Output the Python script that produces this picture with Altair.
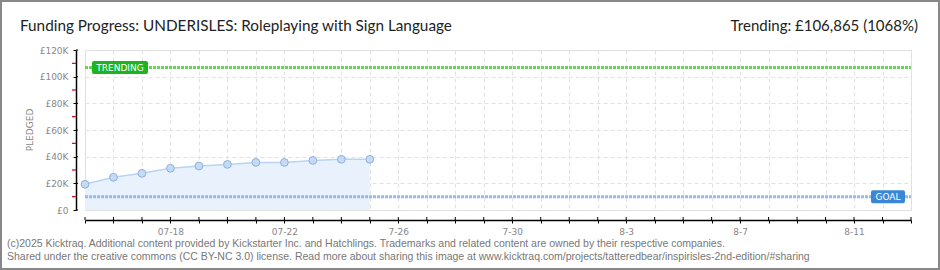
import altair as alt
import pandas as pd
import json

# ---- data ----
dates = ["2025-07-15", "2025-07-16", "2025-07-17", "2025-07-18", "2025-07-19", "2025-07-20",
         "2025-07-21", "2025-07-22", "2025-07-23", "2025-07-24", "2025-07-25"]
pledged = [19300, 24500, 27500, 31300, 33000, 34200, 35700, 35700, 37200, 38000, 38000]
goal = 10000
trending = 106865
start_date = "2025-07-15"
end_date = "2025-08-13"
x_tick_labels = {"2025-07-18": "07-18", "2025-07-22": "07-22", "2025-07-26": "7-26",
                 "2025-07-30": "7-30", "2025-08-03": "8-3", "2025-08-07": "8-7", "2025-08-11": "8-11"}
y_ticks = [0, 20000, 40000, 60000, 80000, 100000, 120000]
y_labels = ["£0", "£20K", "£40K", "£60K", "£80K", "£100K", "£120K"]
y_minor = [10000, 30000, 50000, 70000, 90000, 110000]
title_text = "Funding Progress: UNDERISLES: Roleplaying with Sign Language"
trend_text = "Trending:  £106,865 (1068%)"
footer1 = ("(c)2025 Kicktraq. Additional content provided by Kickstarter Inc. and Hatchlings. "
           "Trademarks and related content are owned by their respective companies.")
footer2 = ("Shared under the creative commons (CC BY-NC 3.0) license. Read more about sharing this "
           "image at www.kicktraq.com/projects/tatteredbear/inspirisles-2nd-edition/#sharing")

start = pd.Timestamp(start_date)
n_days = (pd.Timestamp(end_date) - start).days
df = pd.DataFrame({"day": [(pd.Timestamp(d) - start).days for d in dates], "pledged": pledged})
xlab_arr = [""] * (n_days + 1)
for k, v in x_tick_labels.items():
    xlab_arr[(pd.Timestamp(k) - start).days] = v
y_step = y_ticks[1] - y_ticks[0]
ylab_arr = [""] * len(y_ticks)
for k, v in zip(y_ticks, y_labels):
    ylab_arr[k // y_step] = v

W, H = 826, 160
LABEL_FONT = "DejaVu Sans"
TITLE_FONT = "Lato"

x_axis = alt.Axis(values=list(range(n_days + 1)), tickCount=100,
                  labelExpr=json.dumps(xlab_arr) + "[round(datum.value)]",
                  grid=True, gridDash=[4, 3], gridColor="#e2e2e2",
                  domainColor="#000", domainWidth=1.5, tickColor="#000", tickSize=3,
                  offset=10, labelFont=LABEL_FONT, labelFontSize=9, labelColor="#888",
                  labelPadding=4, title=None, labelOverlap=False, labelFlush=False)
y_axis = alt.Axis(values=y_ticks, tickCount=100,
                  labelExpr=json.dumps(ylab_arr) + "[round(datum.value/" + str(y_step) + ")]",
                  grid=True, gridDash=[4, 3], gridColor="#e2e2e2",
                  domainColor="#000", domainWidth=1.5, tickColor="#000", tickSize=3,
                  offset=9, labelFont=LABEL_FONT, labelFontSize=9, labelColor="#888",
                  labelPadding=5, title=None, labelOverlap=False)
x_scale = alt.Scale(domain=[0, n_days], nice=False, zero=False)
y_scale = alt.Scale(domain=[0, 120000], nice=False)

def X(field="day"):
    return alt.X(f"{field}:Q", scale=x_scale, axis=x_axis)

def Y(field="pledged"):
    return alt.Y(f"{field}:Q", scale=y_scale, axis=y_axis)

base = alt.Chart(df)
area = base.mark_area(color="#e9f2fc", opacity=1).encode(x=X(), y=Y())
line = base.mark_line(color="#b9d3f1", strokeWidth=1.5).encode(x=X(), y=Y())
pts = base.mark_point(filled=True, fill="#c4dbf6", stroke="#8fb0d9", strokeWidth=1,
                      size=60, opacity=1).encode(x=X(), y=Y())

trend_rule = alt.Chart(pd.DataFrame({"pledged": [trending]})).mark_rule(
    color="#6ad35a", strokeWidth=3, strokeDash=[3, 1]).encode(
    y=Y(), x=alt.value(0), x2=alt.value(W))
goal_rule = alt.Chart(pd.DataFrame({"pledged": [goal]})).mark_rule(
    color="#96bbe6", strokeWidth=3, strokeDash=[3, 1]).encode(
    y=Y(), x=alt.value(0), x2=alt.value(W))

minor = alt.Chart(pd.DataFrame({"pledged": y_minor})).mark_rule(
    color="#e00000", strokeWidth=1.2).encode(y=Y(), x=alt.value(-13), x2=alt.value(-9))
# inner halves of the major ticks (ticks cross the axis lines)
y_inner = alt.Chart(pd.DataFrame({"pledged": y_ticks})).mark_rule(
    color="#000", strokeWidth=1).encode(y=Y(), x=alt.value(-9), x2=alt.value(-7))
x_inner = alt.Chart(pd.DataFrame({"day": list(range(n_days + 1))})).mark_rule(
    color="#000", strokeWidth=1).encode(x=X(), y=alt.value(H + 7), y2=alt.value(H + 10))

trend_box = alt.Chart(pd.DataFrame({"pledged": [trending]})).mark_rect(
    color="#1db41d", cornerRadius=2, yOffset=-6.5, y2Offset=6.5).encode(
    y=Y(), y2="pledged:Q", x=alt.value(7), x2=alt.value(63))
trend_lbl = alt.Chart(pd.DataFrame({"pledged": [trending], "t": ["TRENDING"]})).mark_text(
    color="white", font=LABEL_FONT, fontSize=9, baseline="middle", align="center").encode(
    y=Y(), x=alt.value(35), text="t:N")
goal_box = alt.Chart(pd.DataFrame({"pledged": [goal]})).mark_rect(
    color="#3a87d7", cornerRadius=2, yOffset=-6.5, y2Offset=6.5).encode(
    y=Y(), y2="pledged:Q", x=alt.value(786), x2=alt.value(820))
goal_lbl = alt.Chart(pd.DataFrame({"pledged": [goal], "t": ["GOAL"]})).mark_text(
    color="white", font=LABEL_FONT, fontSize=9, baseline="middle", align="center").encode(
    y=Y(), x=alt.value(803), text="t:N")

def txt(s, x, y, size, color, align="left", font=TITLE_FONT, angle=0, baseline="alphabetic"):
    return alt.Chart(pd.DataFrame({"t": [s]})).mark_text(
        align=align, baseline=baseline, fontSize=size, color=color, font=font, angle=angle).encode(
        x=alt.value(x), y=alt.value(y), text="t:N")

title = txt(title_text, -65, -19, 15.3, "#222")
trend_t = txt(trend_text, 833, -19, 15, "#222", align="right")
ytitle = txt("PLEDGED", -55, 80, 9, "#888", align="center", font=LABEL_FONT, angle=270,
             baseline="middle")
f1 = txt(footer1, -78, 197, 10.5, "#777", font="Liberation Sans")
f2 = txt(footer2, -78, 210, 10.5, "#777", font="Liberation Sans")

border = alt.Chart(pd.DataFrame({"a": [0]})).mark_rect(
    fillOpacity=0, stroke="#888", strokeWidth=2).encode(
    x=alt.value(-84), x2=alt.value(854), y=alt.value(-49), y2=alt.value(219))

chart = alt.layer(area, line, goal_rule, trend_rule, pts, minor, y_inner, x_inner,
                  trend_box, trend_lbl, goal_box, goal_lbl, title, trend_t, ytitle,
                  f1, f2, border).properties(
    width=W, height=H, autosize=alt.AutoSizeParams(type="none"),
    padding={"left": 85, "top": 50, "right": 29, "bottom": 60}
).configure_view(stroke=None).configure(background="white")

chart.save("out.html", embed_options={"renderer": "svg", "actions": False})
